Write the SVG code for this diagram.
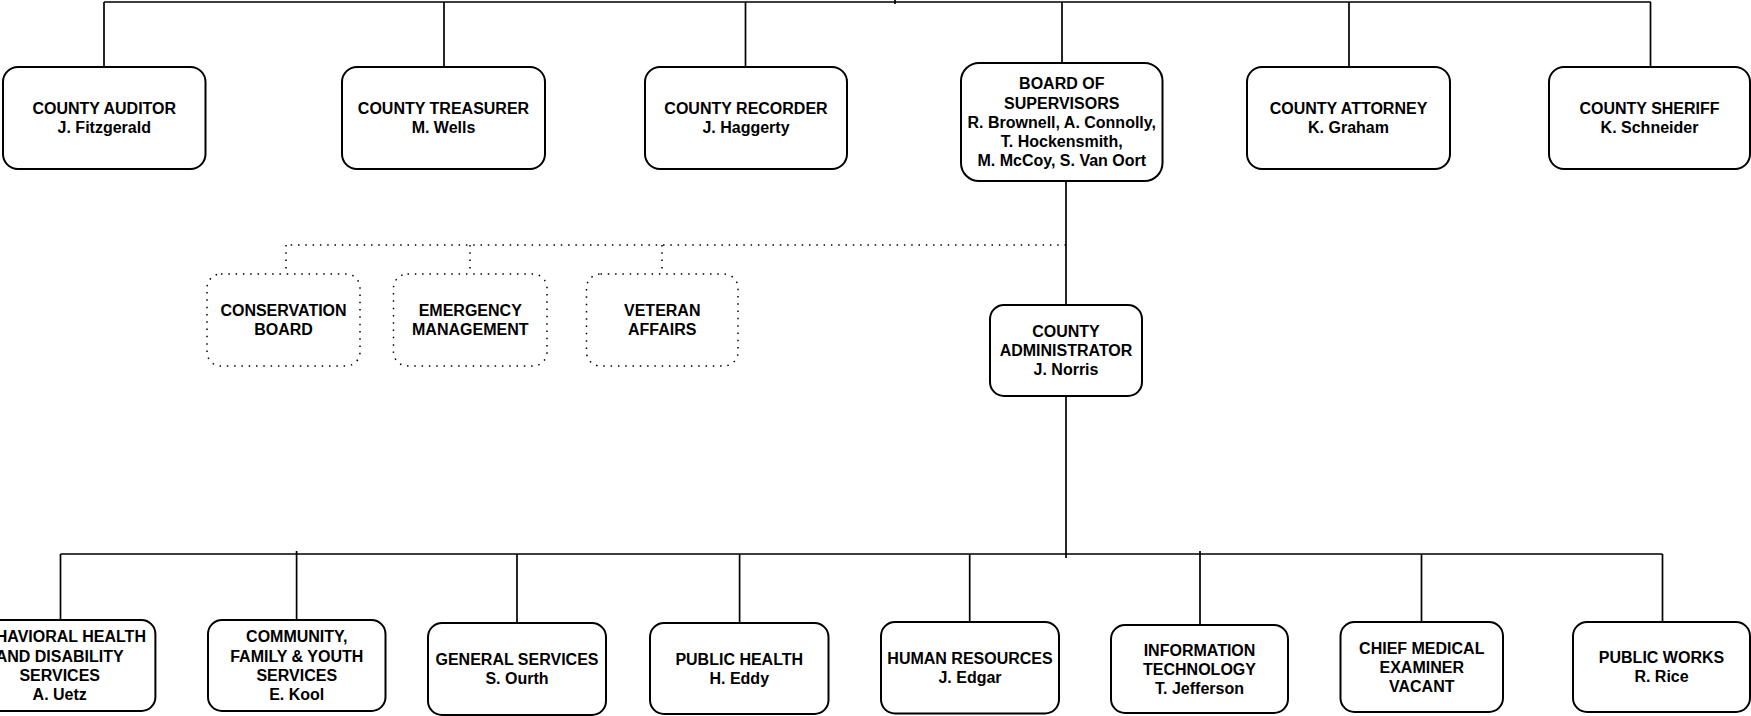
<svg xmlns="http://www.w3.org/2000/svg" width="1751" height="716" viewBox="0 0 1751 716">
<style>
.box{fill:#fff;stroke:#000;stroke-width:2}
.dbox{fill:#fff;stroke:#000;stroke-width:1.5;stroke-dasharray:1.5 5.8}
.ln{fill:none;stroke:#000;stroke-width:1.7}
.dl{fill:none;stroke:#000;stroke-width:1.5;stroke-dasharray:1.5 5.8}
text{font-family:"Liberation Sans",Arial,Helvetica,sans-serif;font-weight:bold;font-size:16px;fill:#000;text-anchor:middle}
</style>
<rect width="1751" height="716" fill="#fff"/>
<g id="connectors">
<path class="ln" d="M104 2H1650.8M895 -2V4M104 2V67M444 2V67M745.5 2V67M1062 2V63M1349 2V67M1650.5 2V67"/>
<path class="ln" d="M1066 181V305M1066 396V558"/>
<path class="dl" d="M1066 245H286M286 245V274M470 245V274M662 245V274"/>
<path class="ln" d="M60.5 554H1662.5M60.5 554V620M296.6 551V620M517 554V623M739.6 554V623M969.7 554V622M1200 551V625M1421.5 554V622M1662.5 554V622"/>
</g>
<g id="auditor"><rect class="box" x="3" y="67" width="202.5" height="102" rx="15"/><text x="104.25" y="114">COUNTY AUDITOR</text><text x="104.25" y="133.2">J. Fitzgerald</text></g>
<g id="treasurer"><rect class="box" x="342" y="67" width="203" height="102" rx="15"/><text x="443.5" y="114">COUNTY TREASURER</text><text x="443.5" y="133.2">M. Wells</text></g>
<g id="recorder"><rect class="box" x="645" y="67" width="202" height="102" rx="15"/><text x="746" y="114">COUNTY RECORDER</text><text x="746" y="133.2">J. Haggerty</text></g>
<g id="board"><rect class="box" x="961" y="63" width="201.5" height="118" rx="18"/><text x="1061.75" y="89.3">BOARD OF</text><text x="1061.75" y="108.5">SUPERVISORS</text><text x="1061.75" y="127.7">R. Brownell, A. Connolly,</text><text x="1061.75" y="146.9">T. Hockensmith,</text><text x="1061.75" y="166.1">M. McCoy, S. Van Oort</text></g>
<g id="attorney"><rect class="box" x="1247" y="67" width="203" height="102" rx="15"/><text x="1348.5" y="114">COUNTY ATTORNEY</text><text x="1348.5" y="133.2">K. Graham</text></g>
<g id="sheriff"><rect class="box" x="1549" y="67" width="201" height="102" rx="15"/><text x="1649.5" y="114">COUNTY SHERIFF</text><text x="1649.5" y="133.2">K. Schneider</text></g>
<g id="conservation"><rect class="dbox" x="207" y="274" width="153" height="92" rx="14"/><text x="283.5" y="316">CONSERVATION</text><text x="283.5" y="335.2">BOARD</text></g>
<g id="emergency"><rect class="dbox" x="393.5" y="274" width="153.5" height="92" rx="14"/><text x="470.25" y="316">EMERGENCY</text><text x="470.25" y="335.2">MANAGEMENT</text></g>
<g id="veteran"><rect class="dbox" x="586.5" y="274" width="151.5" height="92" rx="14"/><text x="662.25" y="316">VETERAN</text><text x="662.25" y="335.2">AFFAIRS</text></g>
<g id="administrator"><rect class="box" x="990" y="305" width="152" height="91" rx="14"/><text x="1066" y="337">COUNTY</text><text x="1066" y="356.2">ADMINISTRATOR</text><text x="1066" y="375.4">J. Norris</text></g>
<g id="behavioral"><rect class="box" x="-36" y="620" width="191.4" height="91" rx="14"/><text x="59.7" y="642.4">BEHAVIORAL HEALTH</text><text x="59.7" y="661.6">AND DISABILITY</text><text x="59.7" y="680.8">SERVICES</text><text x="59.7" y="700">A. Uetz</text></g>
<g id="community"><rect class="box" x="208" y="620" width="177.5" height="91" rx="14"/><text x="296.75" y="642.4">COMMUNITY,</text><text x="296.75" y="661.6">FAMILY &amp; YOUTH</text><text x="296.75" y="680.8">SERVICES</text><text x="296.75" y="700">E. Kool</text></g>
<g id="general"><rect class="box" x="428" y="623" width="178" height="92" rx="14"/><text x="517" y="665.1">GENERAL SERVICES</text><text x="517" y="684.3">S. Ourth</text></g>
<g id="publichealth"><rect class="box" x="650" y="623" width="178.5" height="91" rx="14"/><text x="739.25" y="664.6">PUBLIC HEALTH</text><text x="739.25" y="683.8">H. Eddy</text></g>
<g id="hr"><rect class="box" x="881" y="622" width="178" height="91.5" rx="14"/><text x="970" y="663.9">HUMAN RESOURCES</text><text x="970" y="683.1">J. Edgar</text></g>
<g id="it"><rect class="box" x="1111" y="625" width="177" height="88" rx="14"/><text x="1199.5" y="655.5">INFORMATION</text><text x="1199.5" y="674.7">TECHNOLOGY</text><text x="1199.5" y="693.9">T. Jefferson</text></g>
<g id="medical"><rect class="box" x="1340.5" y="622" width="162.5" height="90" rx="14"/><text x="1421.75" y="653.5">CHIEF MEDICAL</text><text x="1421.75" y="672.7">EXAMINER</text><text x="1421.75" y="691.9">VACANT</text></g>
<g id="publicworks"><rect class="box" x="1573" y="622" width="177" height="90" rx="14"/><text x="1661.5" y="663.1">PUBLIC WORKS</text><text x="1661.5" y="682.3">R. Rice</text></g>
</svg>
